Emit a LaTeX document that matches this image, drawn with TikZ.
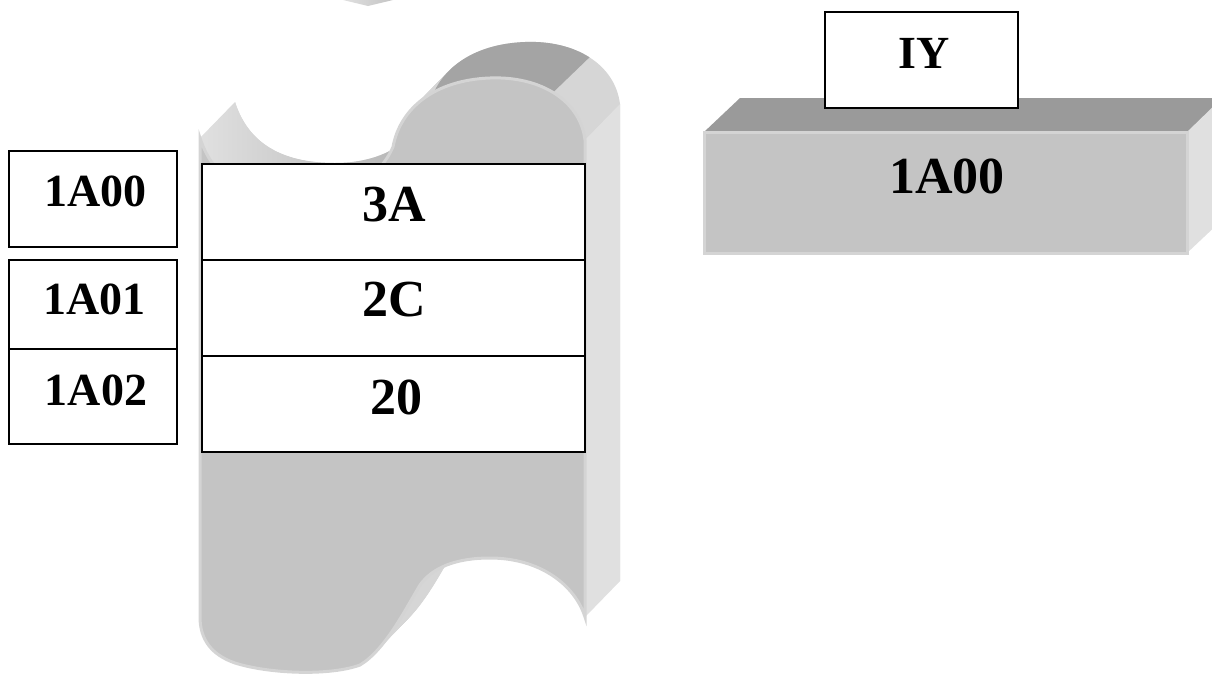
\documentclass[tikz,border=0pt]{standalone}
\usepackage{fontspec}
\setmainfont{Liberation Serif}
\definecolor{faceg}{HTML}{C4C4C4}
\definecolor{rimg}{HTML}{D4D4D4}
\definecolor{sideg}{HTML}{E0E0E0}
\definecolor{sweepg}{HTML}{D6D6D6}
\definecolor{topg}{HTML}{A4A4A4}
\definecolor{bartop}{HTML}{9A9A9A}
% front outline of the memory strip (pixel units, y downwards)
\newcommand{\memoutline}[1]{\path[#1] (200,138) .. controls (215,185) and (255,199) .. (300,199)
  .. controls (345,199) and (378,180) .. (393,147)
  .. controls (400,108) and (435,80) .. (490,78)
  .. controls (540,76) and (580,100) .. (585,140) -- (585,617)
  .. controls (575,585) and (540,558) .. (490,558)
  .. controls (455,558) and (432,568) .. (420,585)
  .. controls (405,610) and (385,650) .. (360,665)
  .. controls (330,676) and (270,674) .. (235,663)
  .. controls (212,655) and (200,640) .. (200,617) -- cycle;}
\begin{document}
\begin{tikzpicture}[x=1pt,y=-1pt,
  cell/.style={draw=black, line width=1.6pt, fill=white, inner sep=0pt, outer sep=0pt, rectangle},
  addr/.style={font=\fontsize{46}{46}\selectfont\bfseries, inner sep=0pt, anchor=base},
  val/.style={font=\fontsize{52}{52}\selectfont\bfseries, inner sep=0pt, anchor=base}]
\useasboundingbox (0,0) rectangle (1212,673);

% small piece at the top edge
\shade[left color=sideg, right color=faceg] (343,0) -- (393,0) -- (368,6) -- cycle;

% extruded depth of the memory strip
\foreach \k in {1,...,35}{\memoutline{fill=sweepg, shift={(\k,{-\k*36/35})}}}
% top surface of the bump
\begin{scope}
  \clip (395,150) -- (400,0) -- (649,0) -- (540,105) -- cycle;
  \fill[topg] (393,147) .. controls (400,108) and (435,80) .. (490,78)
    .. controls (540,76) and (580,100) .. (585,140) -- (620,104)
    .. controls (615,64) and (575,40) .. (525,42)
    .. controls (470,44) and (435,72) .. (428,111) -- cycle;
\end{scope}
% inner wall of the upper cut
\shade[left color=sideg, right color=topg!85!white]
  (200,138) .. controls (215,185) and (255,199) .. (300,199)
  .. controls (345,199) and (378,180) .. (393,147) -- (428,111)
  .. controls (413,144) and (380,163) .. (335,163)
  .. controls (290,163) and (250,149) .. (235,102) -- cycle;
% right side face
\fill[sideg] (585,140) -- (620,104) -- (620,581) -- (585,617) -- cycle;
% front face
\memoutline{fill=faceg, draw=rimg, line width=3pt}

% memory cells
\node[cell, minimum width=383pt, minimum height=96pt] (v0) at (393.5,212) {};
\node[cell, minimum width=383pt, minimum height=96pt] (v1) at (393.5,308) {};
\node[cell, minimum width=383pt, minimum height=96pt] (v2) at (393.5,404) {};
\node[val] (tv0) at (394.7,221.7) {3A};
\node[val] (tv1) at (394.7,316.7) {2C};
\node[val] (tv2) at (396,414) {20};

% addresses
\node[cell, minimum width=168pt, minimum height=96pt] (a0) at (93,199) {};
\node[cell, minimum width=168pt, minimum height=89pt] (a1) at (93,304.5) {};
\node[cell, minimum width=168pt, minimum height=95pt] (a2) at (93,396.5) {};
\node[addr] (ta0) at (95.7,206.7) {1A00};
\node[addr] (ta1) at (94.7,314) {1A01};
\node[addr] (ta2) at (96,405) {1A02};

% index register bar
\fill[bartop] (704,132) -- (740,98) -- (1230,98) -- (1187,132) -- cycle;
\fill[sideg] (1187,132) -- (1222,98) -- (1222,220) -- (1187,253) -- cycle;
\node[fill=faceg, draw=rimg, line width=3pt, inner sep=0pt, outer sep=0pt,
  minimum width=483pt, minimum height=121pt] (bar) at (945.5,192.5) {};
\node[val] (tbar) at (947,193) {1A00};
\node[cell, minimum width=193pt, minimum height=96pt] (iy) at (921.5,60) {};
\node[addr] (tiy) at (924,68.3) {IY};
\end{tikzpicture}
\end{document}
